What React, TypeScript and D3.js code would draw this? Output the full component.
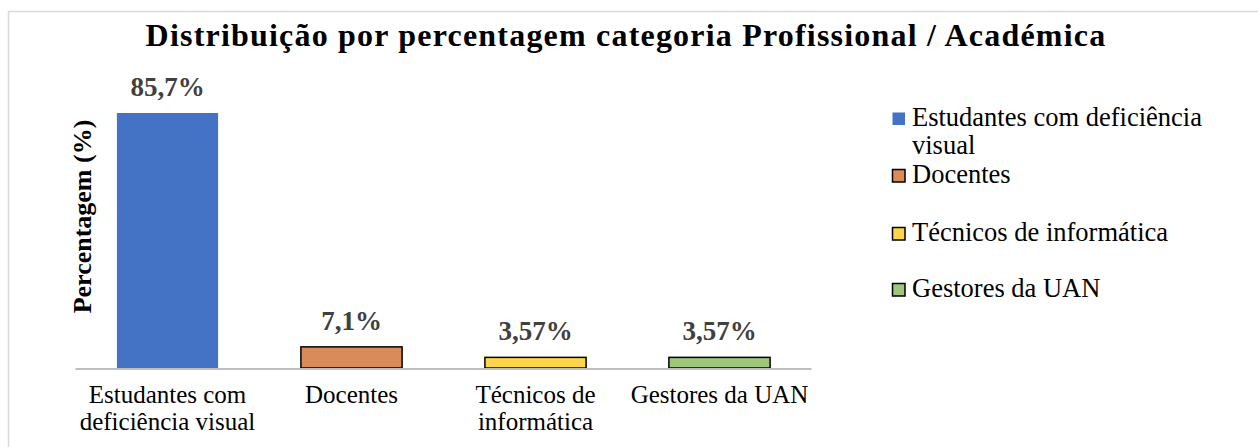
import React from "react";
import * as d3 from "d3";

const categories = ["Estudantes com deficiência visual", "Docentes", "Técnicos de informática", "Gestores da UAN"];
const axisLabelLines = [["Estudantes com", "deficiência visual"], ["Docentes"], ["Técnicos de", "informática"], ["Gestores da UAN"]];
const values = [85.7, 7.1, 3.57, 3.57];
const valueLabels = ["85,7%", "7,1%", "3,57%", "3,57%"];
const legendLines = [["Estudantes com deficiência", "visual"], ["Docentes"], ["Técnicos de informática"], ["Gestores da UAN"]];
const colors = ["#4472C4", "#D98C57", "#FFD54B", "#9DC77B"];
const outlined = [false, true, true, true];

const title = "Distribuição por percentagem categoria Profissional / Académica";
const yTitle = "Percentagem (%)";

const W = 1258;
const H = 447;
const FONT = "'Liberation Serif', 'Times New Roman', serif";

export default function App() {
  const x = d3.scaleBand<string>().domain(categories).range([75.5, 811.5]).paddingInner(0.45).paddingOuter(0.225);
  const y = d3.scaleLinear().domain([0, 90]).range([368, 100.2]);
  const legendBaselines = [126, 183, 241, 297];

  return (
    <svg width={W} height={H} style={{ position: "absolute", left: 0, top: 0, background: "#fff" }} fontFamily={FONT}>
      <rect x={8.5} y={11.5} width={W + 10} height={H + 10} fill="#fff" stroke="#d9d9d9" strokeWidth={1.5} />
      <text x={626} y={46} textAnchor="middle" fontWeight="bold" fontSize={32} fill="#000" letterSpacing={1.2}>
        {title}
      </text>
      <text transform={`translate(91,216.5) rotate(-90)`} textAnchor="middle" fontWeight="bold" fontSize={26} fill="#000">
        {yTitle}
      </text>
      {categories.map((c, i) => {
        const bx = x(c)!;
        const by = y(values[i]);
        return (
          <g key={c}>
            <rect
              x={bx}
              y={by}
              width={x.bandwidth()}
              height={y(0) - by}
              fill={colors[i]}
              stroke={outlined[i] ? "#000" : "none"}
              strokeWidth={outlined[i] ? 1.5 : 0}
            />
            <text x={bx + x.bandwidth() / 2} y={by - 17} textAnchor="middle" fontWeight="bold" fontSize={27} fill="#404040">
              {valueLabels[i]}
            </text>
            {axisLabelLines[i].map((ln, j) => (
              <text key={j} x={bx + x.bandwidth() / 2} y={403 + j * 27} textAnchor="middle" fontSize={25} fill="#000">
                {ln}
              </text>
            ))}
          </g>
        );
      })}
      <line x1={x.range()[0]} x2={x.range()[1]} y1={y(0) + 1} y2={y(0) + 1} stroke="#bfbfbf" strokeWidth={2} />
      {categories.map((c, i) => {
        const base = legendBaselines[i];
        return (
          <g key={"lg" + c}>
            <rect
              x={892.5}
              y={base - 13.5}
              width={12.5}
              height={12.5}
              fill={colors[i]}
              stroke={outlined[i] ? "#000" : "none"}
              strokeWidth={outlined[i] ? 1.5 : 0}
            />
            {legendLines[i].map((ln, j) => (
              <text key={j} x={912} y={base + j * 28} fontSize={26.5} fill="#000">
                {ln}
              </text>
            ))}
          </g>
        );
      })}
    </svg>
  );
}
